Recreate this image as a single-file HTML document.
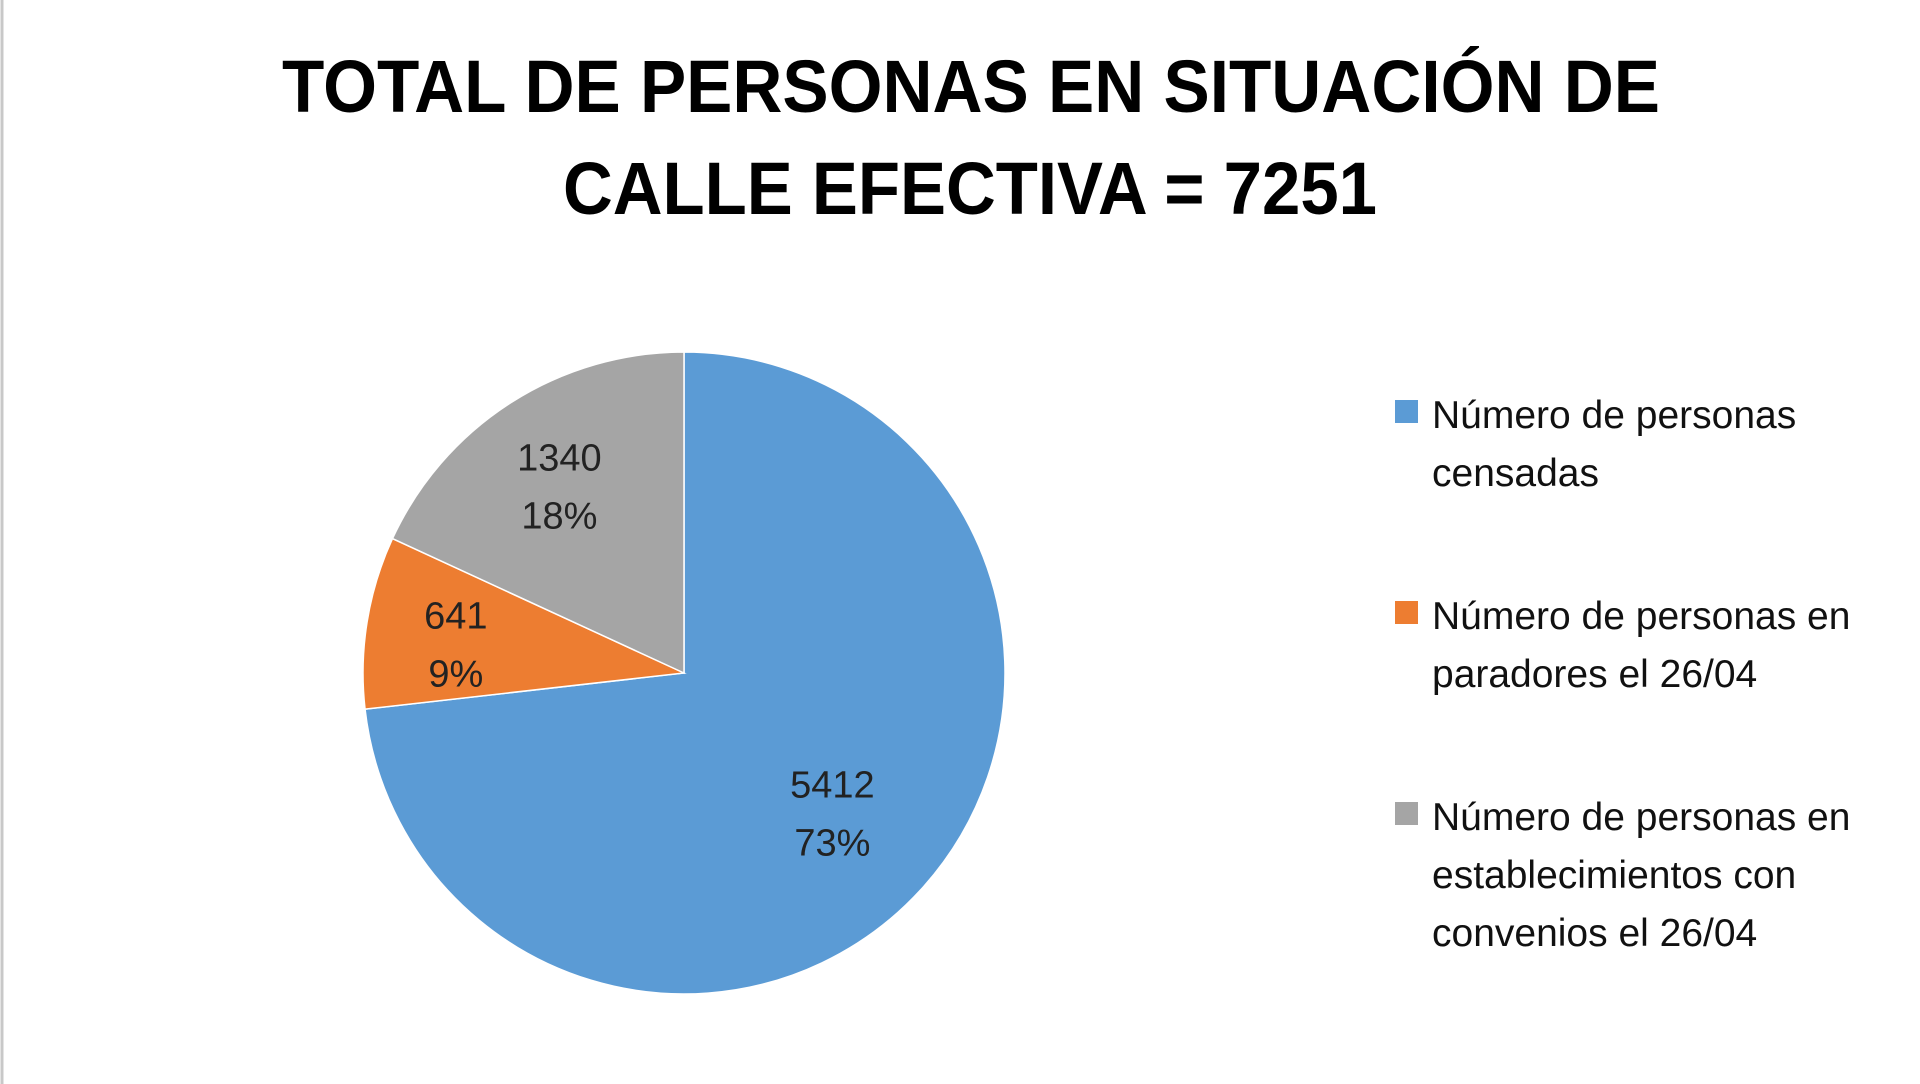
<!DOCTYPE html>
<html><head><meta charset="utf-8"><style>
html,body{margin:0;padding:0;background:#fff;}
svg{display:block;font-family:"Liberation Sans",sans-serif;}
</style></head><body>
<svg id="chart" width="1920" height="1084" viewBox="0 0 1920 1084">
<line x1="2" y1="0" x2="2" y2="1084" stroke="#c8c8c8" stroke-width="3"/>
<text x="971" y="112" text-anchor="middle" font-size="74" font-weight="bold" textLength="1378" lengthAdjust="spacingAndGlyphs">TOTAL DE PERSONAS EN SITUACIÓN DE</text>
<text x="970" y="214" text-anchor="middle" font-size="74" font-weight="bold" textLength="814" lengthAdjust="spacingAndGlyphs">CALLE EFECTIVA = 7251</text>
<g id="slices"></g>
<g id="labels"></g>
<g id="legend"></g>
</svg>
<script>
const categories = ["Número de personas censadas","Número de personas en paradores el 26/04","Número de personas en establecimientos con convenios el 26/04"];
const values = [5412, 641, 1340];
const percentLabels = ["73%","9%","18%"];
const colors = ["#5b9bd5","#ed7d31","#a5a5a5"];
const legendLines = [["Número de personas","censadas"],["Número de personas en","paradores el 26/04"],["Número de personas en","establecimientos con","convenios el 26/04"]];
const NS="http://www.w3.org/2000/svg";
const cx=684, cy=673, r=321;
const total=values.reduce((a,b)=>a+b,0);
function pt(a,rr){return [cx+rr*Math.sin(a), cy-rr*Math.cos(a)];}
let a0=0;
const sg=document.getElementById('slices'), lg=document.getElementById('labels');
values.forEach((v,i)=>{
  const a1=a0+v/total*2*Math.PI;
  const p0=pt(a0,r), p1=pt(a1,r);
  const p=document.createElementNS(NS,'path');
  p.setAttribute('d',`M${cx},${cy} L${p0[0]},${p0[1]} A${r},${r} 0 ${a1-a0>Math.PI?1:0} 1 ${p1[0]},${p1[1]} Z`);
  p.setAttribute('fill',colors[i]);
  p.setAttribute('stroke','#fff');p.setAttribute('stroke-width','1.5');
  
  
  sg.appendChild(p);
  const m=(a0+a1)/2; const lr=r*(i==0?0.62:0.72);
  const c=pt(m,lr);
  [String(v),percentLabels[i]].forEach((t,j)=>{
    const tx=document.createElementNS(NS,'text');
    tx.setAttribute('x',c[0]);tx.setAttribute('y',c[1]-8+j*58);
    tx.setAttribute('text-anchor','middle');tx.setAttribute('font-size','38');tx.setAttribute('fill','#222');
    tx.textContent=t;
    
    
    lg.appendChild(tx);
  });
  a0=a1;
});
const leg=document.getElementById('legend');
const legY=[414,615,816];
categories.forEach((c,i)=>{
  const g=document.createElementNS(NS,'g');
  
  
  const s=document.createElementNS(NS,'rect');
  s.setAttribute('x',1395);s.setAttribute('y',legY[i]-14);s.setAttribute('width',23);s.setAttribute('height',23);s.setAttribute('fill',colors[i]);
  
  
  g.appendChild(s);
  legendLines[i].forEach((ln,j)=>{
    const t=document.createElementNS(NS,'text');
    t.setAttribute('x',1432);t.setAttribute('y',legY[i]+14+j*58);t.setAttribute('font-size','39');t.setAttribute('fill','#111');
    t.textContent=ln;
    
    
    g.appendChild(t);
  });
  leg.appendChild(g);
});
</script>
</body></html>
